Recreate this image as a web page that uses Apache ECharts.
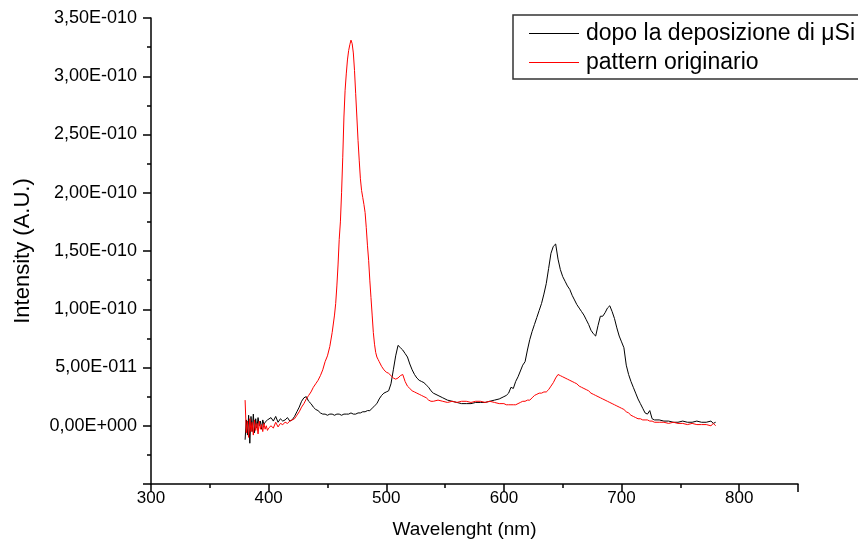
<!DOCTYPE html>
<html>
<head>
<meta charset="utf-8">
<script src="https://cdn.jsdelivr.net/npm/echarts@6/dist/echarts.min.js"></script>
<style>
html,body{margin:0;padding:0;background:#fff;}
#chart{width:858px;height:545px;}
</style>
</head>
<body>
<div id="chart"></div>
<script>
// Intensity values are in units of 1E-010 (A.U.); wavelength in nm.
const seriesNames = ['dopo la deposizione di \u03bcSi', 'pattern originario'];

const blackSpectrum = [
[380,-0.12],[381,0.05],[382,-0.08],[383,0.09],[384,-0.15],[385,0.08],[386,-0.05],[387,0.10],[388,-0.06],[389,0.06],[390,-0.02],[391,0.07],[392,0.00],[393,0.04],[394,-0.03],[395,0.05],[396,0.01],[397,0.03],[398,0.02],[399,0.05],[400,0.06],
[402,0.07],[404,0.04],[406,0.08],[408,0.03],[410,0.06],[412,0.04],[414,0.05],[416,0.07],[418,0.04],[420,0.05],[422,0.08],[424,0.12],[426,0.16],[428,0.21],[430,0.24],[432,0.25],[434,0.21],[436,0.19],[438,0.16],[440,0.14],
[442,0.13],[444,0.11],[446,0.10],[448,0.10],[450,0.09],[452,0.10],[454,0.10],[456,0.09],
[458,0.10],[460,0.10],[462,0.09],[464,0.10],[466,0.10],[468,0.10],[470,0.11],[472,0.10],[474,0.10],[476,0.11],[478,0.11],[480,0.12],[482,0.12],[484,0.13],[486,0.13],[488,0.15],[490,0.17],[492,0.19],[494,0.23],[496,0.26],[498,0.28],[500,0.29],
[502,0.30],[504,0.36],[506,0.48],[508,0.60],[510,0.69],[512,0.67],[514,0.65],[516,0.62],[518,0.59],[520,0.53],[522,0.48],[524,0.44],[526,0.41],[528,0.39],[530,0.38],[532,0.37],[534,0.35],[536,0.33],[538,0.30],[540,0.28],
[544,0.26],[548,0.24],[552,0.22],[556,0.21],[560,0.20],[564,0.19],[568,0.19],[572,0.19],[576,0.20],[580,0.20],[584,0.20],[588,0.21],[592,0.22],[596,0.23],[600,0.25],
[602,0.26],[604,0.28],[606,0.33],[608,0.32],[610,0.38],[612,0.42],[614,0.47],[616,0.52],[618,0.55],[620,0.65],[622,0.74],[624,0.81],[626,0.87],[628,0.93],[630,0.99],[632,1.05],[634,1.13],[636,1.22],[638,1.35],[640,1.48],[642,1.54],[644,1.56],[646,1.43],[648,1.34],[650,1.28],[652,1.24],[654,1.20],[656,1.17],[658,1.12],[660,1.08],[662,1.04],[664,1.01],[666,0.98],[668,0.95],[670,0.91],[672,0.87],[674,0.82],[676,0.79],[678,0.77],[680,0.86],[682,0.94],[684,0.94],[686,0.97],[688,1.01],[690,1.03],[692,0.98],[694,0.92],[696,0.84],[698,0.77],[700,0.72],[702,0.67],[704,0.52],[706,0.44],[708,0.38],[710,0.33],[712,0.28],[714,0.23],[716,0.19],[718,0.15],[720,0.11],
[722,0.10],[724,0.13],[726,0.06],[728,0.05],[732,0.05],[736,0.04],[740,0.04],[744,0.03],[748,0.03],[752,0.04],[756,0.03],[760,0.03],[764,0.04],[768,0.03],[772,0.03],[776,0.04],[778,0.02],[780,0.03]
];

const redSpectrum = [
[380,0.22],[381,-0.06],[382,0.04],[383,-0.10],[384,0.06],[385,-0.05],[386,0.03],[387,-0.08],[388,0.05],[389,-0.04],[390,0.02],[391,-0.07],[392,0.04],[393,-0.03],[394,0.01],[395,-0.05],[396,0.02],[397,-0.03],[398,0.00],[399,-0.04],[400,-0.02],
[402,0.00],[404,-0.02],[406,0.03],[408,-0.01],[410,0.02],[412,0.01],[414,0.03],[416,0.02],[418,0.04],[420,0.05],[422,0.06],[424,0.09],[426,0.12],[428,0.16],[430,0.19],[432,0.23],[434,0.26],[436,0.29],[438,0.33],[440,0.36],
[442,0.39],[444,0.43],[446,0.48],[448,0.55],[450,0.60],[452,0.68],[454,0.80],[456,0.95],
[457,1.05],[458,1.20],[459,1.38],[460,1.60],[461,1.75],[462,2.00],[463,2.30],[464,2.65],[465,2.88],[466,3.02],[467,3.14],[468,3.22],[469,3.27],[470,3.31],[471,3.28],[472,3.20],[473,3.05],[474,2.85],[475,2.65],[476,2.45],[477,2.28],[478,2.12],[479,2.02],[480,1.96],[481,1.90],[482,1.83],[483,1.70],[484,1.55],[485,1.42],[486,1.25],[487,1.10],[488,0.95],[489,0.80],[490,0.70],[491,0.63],[492,0.59],[493,0.57],[494,0.55],[495,0.53],[496,0.51],[497,0.50],[498,0.48],[499,0.47],[500,0.46],
[502,0.45],[504,0.43],[506,0.41],[508,0.40],[510,0.41],[512,0.43],[514,0.44],[516,0.38],[518,0.34],[520,0.32],[522,0.30],[524,0.29],[526,0.28],[528,0.27],[530,0.26],[532,0.25],[534,0.24],[536,0.22],[538,0.21],[540,0.21],
[544,0.22],[548,0.21],[552,0.20],[556,0.21],[560,0.20],[564,0.21],[568,0.21],[572,0.20],[576,0.21],[580,0.21],[584,0.20],[588,0.21],[592,0.20],[596,0.19],[600,0.19],
[602,0.18],[604,0.18],[606,0.18],[608,0.18],[610,0.18],[612,0.19],[614,0.20],[616,0.21],[618,0.21],[620,0.22],[622,0.22],[624,0.24],[626,0.26],[628,0.27],[630,0.28],[632,0.28],[634,0.29],[636,0.29],[638,0.31],[640,0.34],[642,0.37],[644,0.41],[646,0.44],[648,0.43],[650,0.42],[652,0.41],[654,0.40],[656,0.39],[658,0.38],[660,0.37],[662,0.36],[664,0.34],[666,0.33],[668,0.32],[670,0.31],[672,0.30],[674,0.28],[676,0.27],[678,0.26],[680,0.25],[682,0.24],[684,0.23],[686,0.22],[688,0.21],[690,0.20],[692,0.19],[694,0.18],[696,0.17],[698,0.16],[700,0.15],[702,0.14],[704,0.12],[706,0.11],[708,0.09],[710,0.08],[712,0.07],[714,0.06],[716,0.06],[718,0.05],[720,0.05],
[722,0.05],[724,0.04],[726,0.04],[728,0.03],[732,0.03],[736,0.03],[740,0.02],[744,0.03],[748,0.02],[752,0.02],[756,0.01],[760,0.02],[764,0.01],[768,0.01],[772,0.01],[776,0.00],[778,0.02],[780,0.00]
];

const yTickValues = [0, 0.5, 1, 1.5, 2, 2.5, 3, 3.5];
const yTickLabels = ['0,00E+000','5,00E-011','1,00E-010','1,50E-010','2,00E-010','2,50E-010','3,00E-010','3,50E-010'];
const xTickLabels = ['300','400','500','600','700','800'];

const FONT = 'Liberation Sans, Arial, sans-serif';
const chart = echarts.init(document.getElementById('chart'), null, {renderer: 'canvas'});

chart.setOption({
  animation: false,
  backgroundColor: '#ffffff',
  grid: {left: 151, right: 60, top: 18, bottom: 61, containLabel: false},
  legend: {
    orient: 'vertical',
    left: 513, top: 15,
    data: seriesNames,
    icon: 'rect',
    itemWidth: 50, itemHeight: 1,
    itemGap: 6,
    padding: [7, 20, 5, 16],
    borderColor: '#333', borderWidth: 1.5,
    backgroundColor: '#fff',
    textStyle: {fontFamily: FONT, fontSize: 23, color: '#000', lineHeight: 23, padding: [0, 0, 0, 2]},
    selectedMode: false
  },
  xAxis: [{
    type: 'value', min: 300, max: 850, interval: 100,
    position: 'bottom',
    name: 'Wavelenght (nm)', nameLocation: 'middle', nameGap: 36,
    nameTextStyle: {fontFamily: FONT, fontSize: 19, color: '#000', padding: [0, 20, 0, 0]},
    axisLine: {show: true, onZero: false, lineStyle: {color: '#000', width: 1.5}},
    axisTick: {show: true, inside: false, length: 8, lineStyle: {color: '#000', width: 1.5}},
    minorTick: {show: false},
    splitLine: {show: false},
    axisLabel: {
      fontFamily: FONT, fontSize: 17, color: '#000', margin: 6,
      formatter: function (v) { const s = String(v); return xTickLabels.indexOf(s) >= 0 ? s : ''; }
    }
  }, {
    type: 'value', min: 300, max: 850, interval: 50,
    position: 'bottom',
    axisLine: {show: false, onZero: false},
    axisTick: {show: true, inside: false, length: 4, lineStyle: {color: '#000', width: 1.5}},
    axisLabel: {show: false},
    splitLine: {show: false}
  }],
  yAxis: {
    type: 'value', min: -0.5, max: 3.5, interval: 0.5,
    name: 'Intensity (A.U.)', nameLocation: 'middle', nameGap: 117,
    nameTextStyle: {fontFamily: FONT, fontSize: 22, color: '#000'},
    axisLine: {show: true, onZero: false, lineStyle: {color: '#000', width: 1.5}},
    axisTick: {show: true, inside: false, length: 8, lineStyle: {color: '#000', width: 1.5}},
    minorTick: {show: true, splitNumber: 2, length: 4, lineStyle: {color: '#000', width: 1.5}},
    splitLine: {show: false},
    axisLabel: {
      fontFamily: FONT, fontSize: 18, color: '#000', margin: 14,
      formatter: function (v) {
        const i = yTickValues.findIndex(t => Math.abs(t - v) < 1e-9);
        return i >= 0 ? yTickLabels[i] : '';
      }
    }
  },
  series: [{
    name: seriesNames[0], type: 'line', data: blackSpectrum,
    symbol: 'none', smooth: false,
    lineStyle: {color: '#000000', width: 1}, itemStyle: {color: '#000000'}
  }, {
    name: seriesNames[1], type: 'line', data: redSpectrum,
    symbol: 'none', smooth: false,
    lineStyle: {color: '#ff0000', width: 1}, itemStyle: {color: '#ff0000'}
  }]
});
</script>
</body>
</html>
